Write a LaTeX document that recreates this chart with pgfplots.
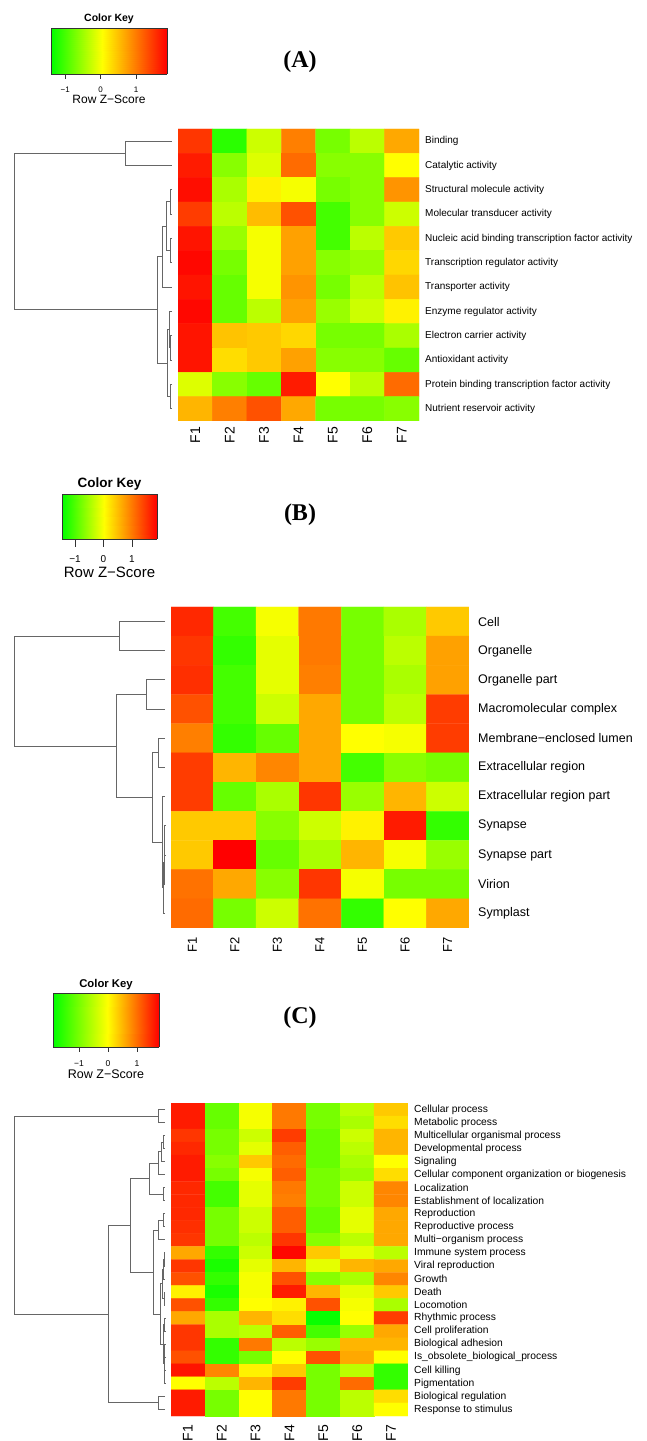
\documentclass[border=0pt]{standalone}
\usepackage{pgfplots}
\pgfplotsset{compat=1.18}
\usepackage{pgfplotstable}
\usepackage{fontspec}
\setmainfont{Liberation Sans}
\newfontfamily\ttlfont{Liberation Serif}
\newcommand{\fs}[1]{\fontsize{#1}{#1}\selectfont}
\pgfplotsset{
  colormap={rzs}{rgb255(0pt)=(0,255,0) rgb255(15pt)=(255,255,0) rgb255(34pt)=(255,0,0)},
  colormap={rzsC}{rgb255(0pt)=(0,255,0) rgb255(19pt)=(255,255,0) rgb255(37pt)=(255,0,0)},
  hm/.style={scale only axis, anchor=south west, enlargelimits=false,
    y dir=reverse, xmin=0.5, xmax=7.5,
    colormap name=rzs, point meta min=-1.5, point meta max=1.9,
    axis line style={draw=none}, tick style={draw=none},
    xtick={1,2,3,4,5,6,7}, xticklabels={F1,F2,F3,F4,F5,F6,F7},
    x tick label style={rotate=90, anchor=east, inner sep=0pt},
    yticklabel pos=right,
    y tick label style={anchor=west, inner sep=0pt}},
  dg/.style={scale only axis, anchor=south west, enlargelimits=false,
    y dir=reverse, hide axis, xmin=0, unbounded coords=jump},
  ck/.style={scale only axis, anchor=south west, ymin=0, ymax=1, zmin=-1, zmax=1,
    view={0}{90},
    xtick={-1,0,1}, xticklabels={−1,0,1}, ytick=\empty, xtick pos=bottom,
    tick align=outside,
    axis line style={black!80, line width=0.6pt}, tick style={black!80, line width=0.6pt},
    x tick label style={anchor=north, inner sep=0pt},
    title={Color Key}, xlabel={Row Z−Score},
    title style={at={(axis description cs:0.5,1)}, anchor=base},
    xlabel style={at={(axis description cs:0.5,0)}, anchor=base}},
  dline/.style={black!60, line width=1pt, no marks}
}
\pgfplotstableread[row sep=\\]{
x y c\\
1 1 1.5\\2 1 -1.25\\3 1 -0.3\\4 1 0.95\\5 1 -0.8\\6 1 -0.4\\7 1 0.65\\
1 2 1.7\\2 2 -0.7\\3 2 -0.2\\4 2 1.1\\5 2 -0.7\\6 2 -0.7\\7 2 0.0\\
1 3 1.8\\2 3 -0.5\\3 3 0.1\\4 3 -0.05\\5 3 -0.8\\6 3 -0.7\\7 3 0.8\\
1 4 1.45\\2 4 -0.4\\3 4 0.5\\4 4 1.3\\5 4 -1.1\\6 4 -0.7\\7 4 -0.3\\
1 5 1.75\\2 5 -0.6\\3 5 -0.05\\4 5 0.7\\5 5 -1.1\\6 5 -0.4\\7 5 0.4\\
1 6 1.85\\2 6 -0.8\\3 6 -0.05\\4 6 0.7\\5 6 -0.7\\6 6 -0.6\\7 6 0.3\\
1 7 1.75\\2 7 -0.9\\3 7 -0.05\\4 7 0.8\\5 7 -0.8\\6 7 -0.4\\7 7 0.45\\
1 8 1.85\\2 8 -0.9\\3 8 -0.4\\4 8 0.7\\5 8 -0.6\\6 8 -0.3\\7 8 0.1\\
1 9 1.75\\2 9 0.45\\3 9 0.4\\4 9 0.3\\5 9 -0.8\\6 9 -0.8\\7 9 -0.5\\
1 10 1.75\\2 10 0.25\\3 10 0.4\\4 10 0.7\\5 10 -0.7\\6 10 -0.7\\7 10 -0.9\\
1 11 -0.2\\2 11 -0.7\\3 11 -0.9\\4 11 1.7\\5 11 0.0\\6 11 -0.4\\7 11 1.1\\
1 12 0.55\\2 12 0.95\\3 12 1.3\\4 12 0.65\\5 12 -0.8\\6 12 -0.8\\7 12 -0.7\\
}\dataA
\pgfplotstableread[row sep=\\]{
x y c\\
1 1 1.6\\2 1 -1.1\\3 1 -0.05\\4 1 1.0\\5 1 -0.8\\6 1 -0.5\\7 1 0.4\\
1 2 1.5\\2 2 -1.2\\3 2 -0.15\\4 2 1.0\\5 2 -0.8\\6 2 -0.4\\7 2 0.7\\
1 3 1.55\\2 3 -1.1\\3 3 -0.15\\4 3 0.95\\5 3 -0.8\\6 3 -0.5\\7 3 0.7\\
1 4 1.3\\2 4 -1.1\\3 4 -0.3\\4 4 0.65\\5 4 -0.8\\6 4 -0.4\\7 4 1.45\\
1 5 0.95\\2 5 -1.2\\3 5 -0.9\\4 5 0.65\\5 5 0.0\\6 5 -0.05\\7 5 1.45\\
1 6 1.45\\2 6 0.55\\3 6 0.9\\4 6 0.65\\5 6 -1.1\\6 6 -0.7\\7 6 -0.8\\
1 7 1.45\\2 7 -0.9\\3 7 -0.5\\4 7 1.5\\5 7 -0.6\\6 7 0.55\\7 7 -0.3\\
1 8 0.4\\2 8 0.4\\3 8 -0.7\\4 8 -0.3\\5 8 0.1\\6 8 1.7\\7 8 -1.2\\
1 9 0.4\\2 9 1.9\\3 9 -0.9\\4 9 -0.5\\5 9 0.55\\6 9 -0.05\\7 9 -0.6\\
1 10 1.05\\2 10 0.65\\3 10 -0.7\\4 10 1.5\\5 10 -0.05\\6 10 -0.8\\7 10 -0.8\\
1 11 1.1\\2 11 -0.8\\3 11 -0.3\\4 11 1.05\\5 11 -1.2\\6 11 0.0\\7 11 0.65\\
}\dataB
\pgfplotstableread[row sep=\\]{
x y c\\
1 1 1.7\\2 1 -0.9\\3 1 -0.05\\4 1 1.0\\5 1 -0.8\\6 1 -0.4\\7 1 0.4\\
1 2 1.7\\2 2 -0.9\\3 2 -0.05\\4 2 1.0\\5 2 -0.8\\6 2 -0.5\\7 2 0.25\\
1 3 1.5\\2 3 -0.8\\3 3 -0.3\\4 3 1.45\\5 3 -0.9\\6 3 -0.3\\7 3 0.55\\
1 4 1.6\\2 4 -0.8\\3 4 -0.15\\4 4 1.2\\5 4 -0.9\\6 4 -0.4\\7 4 0.55\\
1 5 1.7\\2 5 -0.7\\3 5 0.4\\4 5 1.1\\5 5 -0.9\\6 5 -0.5\\7 5 0.0\\
1 6 1.7\\2 6 -0.8\\3 6 -0.05\\4 6 1.2\\5 6 -0.8\\6 6 -0.6\\7 6 0.25\\
1 7 1.6\\2 7 -1.1\\3 7 -0.15\\4 7 1.0\\5 7 -0.8\\6 7 -0.3\\7 7 0.9\\
1 8 1.6\\2 8 -1.1\\3 8 -0.15\\4 8 0.95\\5 8 -0.8\\6 8 -0.3\\7 8 0.9\\
1 9 1.6\\2 9 -0.8\\3 9 -0.3\\4 9 1.2\\5 9 -0.9\\6 9 -0.15\\7 9 0.65\\
1 10 1.55\\2 10 -0.8\\3 10 -0.3\\4 10 1.2\\5 10 -0.9\\6 10 -0.15\\7 10 0.65\\
1 11 1.5\\2 11 -0.8\\3 11 -0.4\\4 11 1.5\\5 11 -0.7\\6 11 -0.4\\7 11 0.65\\
1 12 0.65\\2 12 -1.2\\3 12 -0.3\\4 12 1.85\\5 12 0.4\\6 12 -0.15\\7 12 -0.4\\
1 13 1.5\\2 13 -1.35\\3 13 -0.15\\4 13 0.55\\5 13 -0.15\\6 13 0.55\\7 13 0.65\\
1 14 1.3\\2 14 -1.2\\3 14 -0.05\\4 14 1.3\\5 14 -0.7\\6 14 -0.5\\7 14 0.9\\
1 15 0.1\\2 15 -1.35\\3 15 -0.05\\4 15 1.7\\5 15 0.55\\6 15 -0.15\\7 15 0.4\\
1 16 1.3\\2 16 -1.2\\3 16 0.0\\4 16 0.1\\5 16 1.3\\6 16 -0.05\\7 16 -0.5\\
1 17 0.65\\2 17 -0.5\\3 17 0.55\\4 17 0.25\\5 17 -1.45\\6 17 0.0\\7 17 1.45\\
1 18 1.5\\2 18 -0.5\\3 18 -0.4\\4 18 1.2\\5 18 -1.1\\6 18 -0.6\\7 18 0.65\\
1 19 1.5\\2 19 -1.2\\3 19 1.0\\4 19 -0.4\\5 19 -0.6\\6 19 0.55\\7 19 0.55\\
1 20 1.3\\2 20 -1.2\\3 20 -0.8\\4 20 0.0\\5 20 1.3\\6 20 0.65\\7 20 0.0\\
1 21 1.75\\2 21 0.9\\3 21 0.1\\4 21 0.4\\5 21 -0.8\\6 21 -0.4\\7 21 -1.2\\
1 22 0.0\\2 22 -0.4\\3 22 0.55\\4 22 1.45\\5 22 -0.8\\6 22 1.1\\7 22 -1.2\\
1 23 1.7\\2 23 -0.8\\3 23 0.0\\4 23 1.0\\5 23 -0.8\\6 23 -0.4\\7 23 0.25\\
1 24 1.7\\2 24 -0.8\\3 24 0.0\\4 24 1.0\\5 24 -0.8\\6 24 -0.4\\7 24 0.0\\
}\dataC
\begin{document}
\begin{tikzpicture}[x=1pt,y=1pt]
\path[use as bounding box] (0,0) rectangle (646,1441);
% ================= Panel A =================
\node[font=\ttlfont\bfseries\fs{24}] at (300,1379) {(A)};
\begin{axis}[ck, at={(51pt,1367pt)}, width=116pt, height=46pt,
  xmin=-1.4, xmax=1.87, colormap name=rzs, point meta min=-1.4, point meta max=1.87,
  major tick length=5pt, xticklabel shift=8pt,
  x tick label style={font=\fs{8}},
  title style={font=\bfseries\fs{10.5}, yshift=0pt},
  xlabel style={font=\fs{12}, yshift=-30pt}]
\addplot3[surf, shader=interp, mesh/rows=2, point meta=x] coordinates {(-1.4,0,0) (1.87,0,0) (-1.4,1,0) (1.87,1,0)};
\end{axis}
\begin{axis}[dg, at={(0pt,1020pt)}, width=178pt, height=292pt, xmax=178, ymin=0.5, ymax=12.5]
\addplot[dline] coordinates {
(172,1)(125,1)(125,2)(172,2)(nan,nan)
(172,3)(170,3)(170,4)(172,4)(nan,nan)
(172,5)(170,5)(170,6)(172,6)(nan,nan)
(170,3.5)(166,3.5)(166,5.5)(170,5.5)(nan,nan)
(166,4.5)(162.7,4.5)(162.7,7)(172,7)(nan,nan)
(172,9)(170.5,9)(170.5,10)(172,10)(nan,nan)
(172,8)(169,8)(169,9.5)(170.5,9.5)(nan,nan)
(172,11)(170.5,11)(170.5,12)(172,12)(nan,nan)
(169,8.75)(167.5,8.75)(167.5,11.5)(170.5,11.5)(nan,nan)
(162.7,5.75)(157,5.75)(157,10.125)(167.5,10.125)(nan,nan)
(125,1.5)(14.4,1.5)(14.4,7.9375)(157,7.9375)
};
\end{axis}
\begin{axis}[hm, at={(178pt,1020pt)}, width=241pt, height=292pt, ymin=0.5, ymax=12.5,
  ytick={1,...,12},
  yticklabels={Binding,Catalytic activity,Structural molecule activity,Molecular transducer activity,Nucleic acid binding transcription factor activity,Transcription regulator activity,Transporter activity,Enzyme regulator activity,Electron carrier activity,Antioxidant activity,Protein binding transcription factor activity,Nutrient reservoir activity},
  x tick label style={font=\fs{14}}, xticklabel shift=6pt,
  y tick label style={font=\fs{10}}, yticklabel shift=6pt]
\addplot[matrix plot*, mesh/cols=7, point meta=explicit] table[x=x, y=y, meta=c] {\dataA};
\end{axis}
% ================= Panel B =================
\node[font=\ttlfont\bfseries\fs{24}] at (300,926) {(B)};
\begin{axis}[ck, at={(62pt,902pt)}, width=95pt, height=45pt,
  xmin=-1.46, xmax=1.88, colormap name=rzs, point meta min=-1.46, point meta max=1.88,
  major tick length=8pt, xticklabel shift=8pt,
  x tick label style={font=\fs{10}},
  title style={font=\bfseries\fs{13.5}, yshift=0pt},
  xlabel style={font=\fs{15}, yshift=-38.5pt}]
\addplot3[surf, shader=interp, mesh/rows=2, point meta=x] coordinates {(-1.46,0,0) (1.88,0,0) (-1.46,1,0) (1.88,1,0)};
\end{axis}
\begin{axis}[dg, at={(0pt,513pt)}, width=171pt, height=321pt, xmax=171, ymin=0.5, ymax=11.5]
\addplot[dline] coordinates {
(165,1)(119,1)(119,2)(165,2)(nan,nan)
(165,3)(146,3)(146,4)(165,4)(nan,nan)
(165,5)(158,5)(158,6)(165,6)(nan,nan)
(165,8)(164.5,8)(164.5,9)(165,9)(nan,nan)
(164.5,8.5)(164,8.5)(164,10)(165,10)(nan,nan)
(164,9.25)(163.5,9.25)(163.5,11)(165,11)(nan,nan)
(165,7)(162.5,7)(162.5,10.125)(163.5,10.125)(nan,nan)
(158,5.5)(152,5.5)(152,8.5625)(162.5,8.5625)(nan,nan)
(146,3.5)(116,3.5)(116,7.03125)(152,7.03125)(nan,nan)
(119,1.5)(14.4,1.5)(14.4,5.265625)(116,5.265625)
};
\end{axis}
\begin{axis}[hm, at={(171pt,513pt)}, width=298pt, height=321pt, ymin=0.5, ymax=11.5,
  ytick={1,...,11},
  yticklabels={Cell,Organelle,Organelle part,Macromolecular complex,Membrane−enclosed lumen,Extracellular region,Extracellular region part,Synapse,Synapse part,Virion,Symplast},
  x tick label style={font=\fs{13}}, xticklabel shift=9pt,
  y tick label style={font=\fs{12.5}}, yticklabel shift=9pt]
\addplot[matrix plot*, mesh/cols=7, point meta=explicit] table[x=x, y=y, meta=c] {\dataB};
\end{axis}
% ================= Panel C =================
\node[font=\ttlfont\bfseries\fs{24}] at (300,423) {(C)};
\begin{axis}[ck, at={(53pt,394pt)}, width=106pt, height=54pt,
  xmin=-1.9, xmax=1.76, colormap name=rzsC, point meta min=-1.9, point meta max=1.76,
  major tick length=5pt, xticklabel shift=8pt,
  x tick label style={font=\fs{8.5}},
  title style={font=\bfseries\fs{11.3}, yshift=-1pt},
  xlabel style={font=\fs{12.5}, yshift=-31.5pt}]
\addplot3[surf, shader=interp, mesh/rows=2, point meta=x] coordinates {(-1.9,0,0) (1.76,0,0) (-1.9,1,0) (1.76,1,0)};
\end{axis}
\begin{axis}[dg, at={(0pt,25pt)}, width=171pt, height=313pt, xmax=171, ymin=0.5, ymax=24.5]
\addplot[dline] coordinates {
(165,1)(158,1)(158,2)(165,2)(nan,nan)
(165,3)(163,3)(163,4)(165,4)(nan,nan)
(163,3.5)(161,3.5)(161,5)(165,5)(nan,nan)
(161,4.25)(158,4.25)(158,6)(165,6)(nan,nan)
(165,7)(163,7)(163,8)(165,8)(nan,nan)
(158,5.125)(149,5.125)(149,7.5)(163,7.5)(nan,nan)
(165,9)(163,9)(163,10)(165,10)(nan,nan)
(163,9.5)(158,9.5)(158,11)(165,11)(nan,nan)
(165,12)(164,12)(164,13)(165,13)(nan,nan)
(164,12.5)(163.5,12.5)(163.5,14)(165,14)(nan,nan)
(165,15)(164,15)(164,16)(165,16)(nan,nan)
(163.5,13.25)(162.5,13.25)(162.5,15.5)(164,15.5)(nan,nan)
(165,17)(164.5,17)(164.5,18)(165,18)(nan,nan)
(165,19)(164.5,19)(164.5,20)(165,20)(nan,nan)
(165,21)(164.5,21)(164.5,22)(165,22)(nan,nan)
(164.5,19.5)(164,19.5)(164,21.5)(164.5,21.5)(nan,nan)
(164.5,17.5)(163,17.5)(163,20.5)(164,20.5)(nan,nan)
(162.5,14.375)(160,14.375)(160,19)(163,19)(nan,nan)
(158,10.25)(153,10.25)(153,16.6875)(160,16.6875)(nan,nan)
(149,6.3125)(130.7,6.3125)(130.7,13.46875)(153,13.46875)(nan,nan)
(165,23)(158,23)(158,24)(165,24)(nan,nan)
(130.7,9.890625)(108,9.890625)(108,23.5)(158,23.5)(nan,nan)
(158,1.5)(14.4,1.5)(14.4,16.6953)(108,16.6953)
};
\end{axis}
\begin{axis}[hm, at={(171pt,25pt)}, width=237pt, height=313pt, ymin=0.5, ymax=24.5,
  ytick={1,...,24},
  yticklabels={Cellular process,Metabolic process,Multicellular organismal process,Developmental process,Signaling,Cellular component organization or biogenesis,Localization,Establishment of localization,Reproduction,Reproductive process,Multi−organism process,Immune system process,Viral reproduction,Growth,Death,Locomotion,Rhythmic process,Cell proliferation,Biological adhesion,Is\_obsolete\_biological\_process,Cell killing,Pigmentation,Biological regulation,Response to stimulus},
  x tick label style={font=\fs{14}}, xticklabel shift=9pt,
  y tick label style={font=\fs{10.3}}, yticklabel shift=6pt]
\addplot[matrix plot*, mesh/cols=7, point meta=explicit] table[x=x, y=y, meta=c] {\dataC};
\end{axis}
\end{tikzpicture}
\end{document}
